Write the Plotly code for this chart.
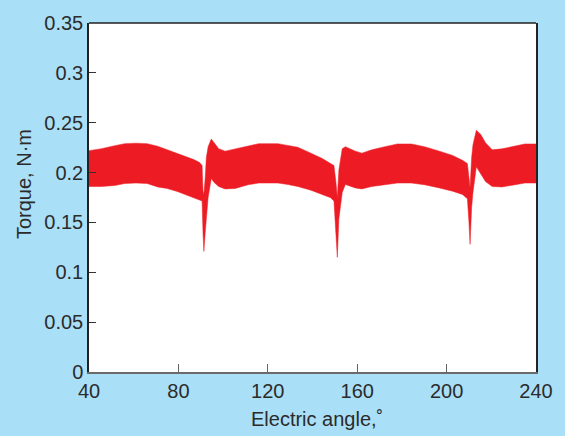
import plotly.graph_objects as go

# Torque ripple envelope versus electric angle
angle = [40.0, 45.6, 51.5, 56.0, 61.0, 66.0, 70.7, 75.0, 79.5, 83.0, 86.9, 89.5,
         90.6, 91.0, 91.4, 92.0, 92.5, 93.3, 94.7, 96.0, 98.0, 100.9, 105.4, 111.2,
         116.0, 124.5, 129.0, 133.4, 139.3, 144.4, 148.1, 149.6, 150.5, 151.1, 151.8,
         153.3, 154.7, 159.2, 162.1, 166.5, 172.4, 178.0, 184.2, 190.1, 196.8, 202.7,
         207.1, 209.3, 210.0, 210.5, 211.2, 211.8, 213.3, 215.2, 217.4, 220.4, 224.8,
         230.7, 235.0, 240.0]
torque_max = [0.222, 0.224, 0.227, 0.229, 0.2295, 0.229, 0.2265, 0.223, 0.219, 0.216, 0.213, 0.210,
              0.207, 0.182, 0.178, 0.195, 0.215, 0.226, 0.2336, 0.230, 0.224, 0.2215, 0.2238, 0.227,
              0.229, 0.229, 0.2275, 0.2254, 0.2195, 0.214, 0.209, 0.207, 0.190, 0.175, 0.2025,
              0.2238, 0.226, 0.2215, 0.2195, 0.2228, 0.226, 0.2287, 0.2287, 0.226, 0.2215, 0.2172,
              0.2123, 0.209, 0.195, 0.185, 0.215, 0.228, 0.2424, 0.2385, 0.230, 0.2228, 0.2238,
              0.227, 0.2287, 0.2287]
torque_min = [0.186, 0.186, 0.187, 0.189, 0.1895, 0.189, 0.1856, 0.184, 0.181, 0.178, 0.175, 0.173,
              0.1715, 0.140, 0.121, 0.140, 0.155, 0.175, 0.194, 0.190, 0.186, 0.1836, 0.184, 0.1878,
              0.1895, 0.1895, 0.188, 0.186, 0.1823, 0.178, 0.1748, 0.1715, 0.135, 0.115, 0.1535,
              0.180, 0.188, 0.1846, 0.1836, 0.186, 0.1878, 0.1895, 0.1895, 0.1878, 0.1846, 0.1813,
              0.178, 0.1738, 0.150, 0.128, 0.165, 0.180, 0.2058, 0.1993, 0.191, 0.186, 0.1856,
              0.1878, 0.1895, 0.1895]

x_ticks = [40, 80, 120, 160, 200, 240]
y_ticks = [0, 0.05, 0.1, 0.15, 0.2, 0.25, 0.3, 0.35]
y_tick_text = ["0", "0.05", "0.1", "0.15", "0.2", "0.25", "0.3", "0.35"]

RED = "rgb(237,28,36)"
BG = "rgb(170,223,248)"
FONT = "Liberation Sans, Arial, sans-serif"
TXT = "#2b2b2b"

fig = go.Figure()
fig.add_trace(go.Scatter(x=angle, y=torque_min, mode="lines",
                         line=dict(color=RED, width=0.5), showlegend=False, hoverinfo="skip"))
fig.add_trace(go.Scatter(x=angle, y=torque_max, mode="lines", fill="tonexty",
                         fillcolor=RED, line=dict(color=RED, width=0.5), showlegend=False))

fig.update_layout(
    width=565, height=436,
    margin=dict(l=89, r=24, t=14, b=64),
    paper_bgcolor=BG, plot_bgcolor="white",
    font=dict(family=FONT, color=TXT, size=20),
    xaxis=dict(range=[40, 240], tickvals=x_ticks, ticks="inside", ticklen=8,
               tickcolor="#666", tickwidth=1.2, showgrid=False, zeroline=False,
               showline=True, linecolor="#6a6a6a", linewidth=1.5,
               tickfont=dict(size=20, color=TXT)),
    yaxis=dict(range=[0, 0.35], tickvals=y_ticks, ticktext=y_tick_text, ticks="inside",
               ticklen=7, tickcolor="#333", tickwidth=1.2, showgrid=False, zeroline=False,
               showline=True, mirror=True, linecolor="#222", linewidth=1.5,
               tickfont=dict(size=20, color=TXT)),
    shapes=[dict(type="line", xref="paper", yref="paper", x0=0, x1=1, y0=1, y1=1,
                 line=dict(color="#222", width=1.5))],
    annotations=[
        dict(text="Electric angle,˚", xref="paper", yref="paper", x=0.511, y=-0.134,
             showarrow=False, xanchor="center", yanchor="middle",
             font=dict(size=20, color=TXT)),
        dict(text="Torque, N·m", xref="paper", yref="paper", x=-0.145, y=0.539,
             showarrow=False, textangle=-90, xanchor="center", yanchor="middle",
             font=dict(size=20, color=TXT)),
    ],
)

fig.write_html("out.html")
